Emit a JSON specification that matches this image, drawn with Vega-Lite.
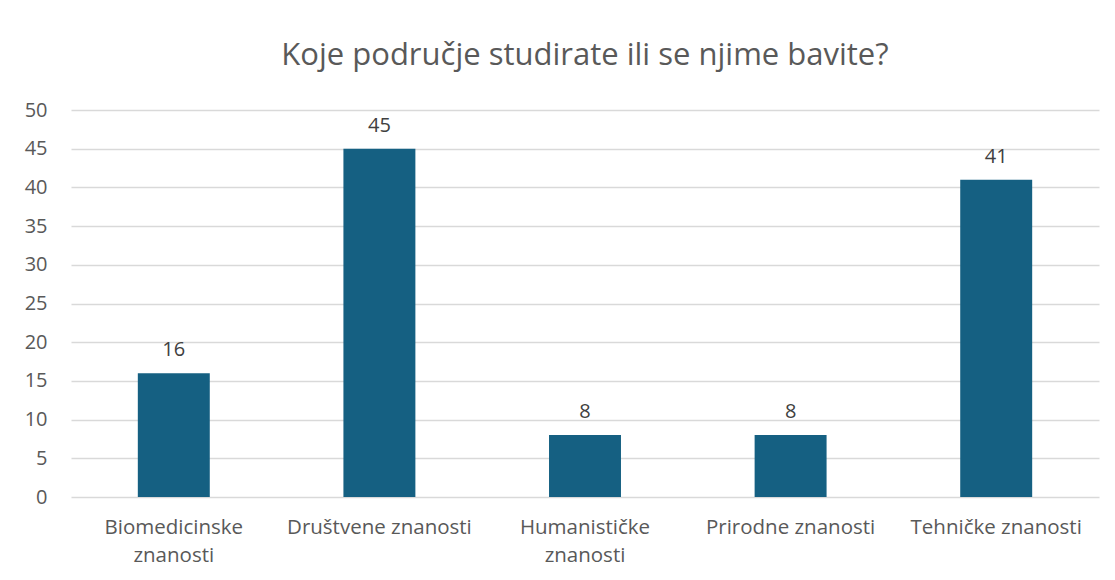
{
  "$schema": "https://vega.github.io/schema/vega-lite/v6.json",
  "autosize": {"type": "none"},
  "padding": {"left": 71, "top": 110, "right": 16, "bottom": 83},
  "width": 1028,
  "height": 387,
  "background": "white",
  "title": {
    "text": "Koje područje studirate ili se njime bavite?",
    "font": "Open Sans",
    "fontSize": 31,
    "fontWeight": "normal",
    "color": "#595959",
    "anchor": "middle",
    "offset": 28
  },
  "data": {
    "values": [
      {"podrucje": "Biomedicinske znanosti", "broj": 16},
      {"podrucje": "Društvene znanosti", "broj": 45},
      {"podrucje": "Humanističke znanosti", "broj": 8},
      {"podrucje": "Prirodne znanosti", "broj": 8},
      {"podrucje": "Tehničke znanosti", "broj": 41}
    ]
  },
  "encoding": {
    "x": {
      "field": "podrucje",
      "type": "nominal",
      "sort": null,
      "title": null,
      "scale": {"paddingInner": 0.65, "paddingOuter": 0.325},
      "axis": {
        "labelAngle": 0,
        "labelFont": "Open Sans",
        "labelFontSize": 20.5,
        "labelColor": "#595959",
        "labelPadding": 20,
        "labelLineHeight": 28,
        "labelLimit": 400,
        "labelExpr": "length(datum.label) > 19 ? split(datum.label, ' ') : datum.label",
        "ticks": false,
        "domain": false,
        "grid": false
      }
    },
    "y": {
      "field": "broj",
      "type": "quantitative",
      "title": null,
      "scale": {"domain": [0, 50]},
      "axis": {
        "values": [0, 5, 10, 15, 20, 25, 30, 35, 40, 45, 50],
        "labelFont": "Open Sans",
        "labelFontSize": 20,
        "labelColor": "#595959",
        "labelPadding": 24,
        "ticks": false,
        "domain": false,
        "grid": true,
        "gridColor": "#d9d9d9",
        "gridWidth": 1.3
      }
    }
  },
  "layer": [
    {
      "mark": {"type": "bar", "color": "#156082"}
    },
    {
      "mark": {
        "type": "text",
        "dy": -17,
        "baseline": "alphabetic",
        "font": "Open Sans",
        "fontSize": 20,
        "color": "#404040"
      },
      "encoding": {"text": {"field": "broj", "type": "quantitative"}}
    }
  ],
  "config": {"view": {"stroke": null}}
}
